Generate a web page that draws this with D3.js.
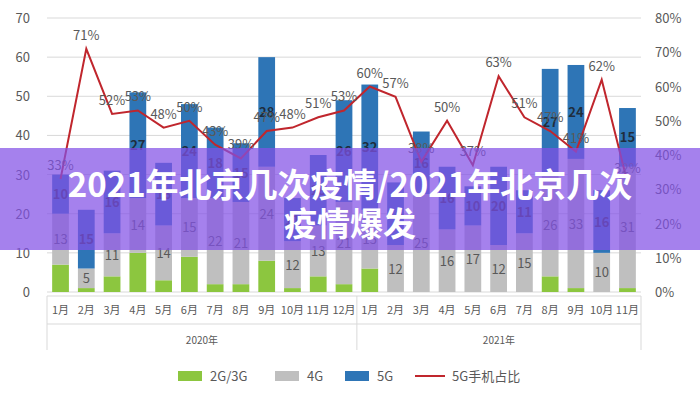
<!DOCTYPE html>
<html><head><meta charset="utf-8">
<script src="https://cdn.jsdelivr.net/npm/d3@7"></script>
<style>body{margin:0;background:#fff;font-family:"Noto Sans CJK SC","Noto Sans",sans-serif}</style>
</head><body><svg width="700" height="400"></svg>
<script>
var months = ["1月","2月","3月","4月","5月","6月","7月","8月","9月","10月","11月","12月",
              "1月","2月","3月","4月","5月","6月","7月","8月","9月","10月","11月"];
var g34 = [7,1,4,10,3,9,2,2,8,1,4,2, 6,0,0,0,0,0,0,4,1,0,1];
var g4  = [13,5,11,14,14,15,22,21,24,12,13,21, 15,12,25,16,17,12,15,26,33,10,31];
var g5  = [10,15,16,27,16,24,18,15,28,11,18,26, 32,16,16,16,10,20,11,27,24,16,15];
var share = [33,71,52,53,48,50,43,39,47,48,51,53, 60,57,38,50,37,63,51,47,41,62,32];
var years = ["2020年","2021年"];
var leftTicks = [0,10,20,30,40,50,60,70];
var rightTicks = [0,10,20,30,40,50,60,70,80];

var svg = d3.select("svg");
var plotL = 47, plotR = 641, plotT = 18, plotB = 292;
var x = d3.scaleBand().domain(d3.range(months.length)).range([plotL, plotR]).paddingInner(0.35).paddingOuter(0.2);
var y = d3.scaleLinear().domain([0,70]).range([plotB, plotT]);
var y2 = d3.scaleLinear().domain([0,80]).range([plotB, plotT]);

// grid
svg.selectAll(".grid").data(leftTicks).enter().append("line")
  .attr("x1", plotL).attr("x2", plotR)
  .attr("y1", function(d){ return y(d); }).attr("y2", function(d){ return y(d); })
  .attr("stroke", "#d9d9d9");
svg.selectAll(".lt").data(leftTicks).enter().append("text")
  .attr("x", 30).attr("y", function(d){ return y(d) + 5; }).attr("text-anchor","end")
  .attr("fill","#595959").attr("font-size",13).text(function(d){ return d; });
svg.selectAll(".rt").data(rightTicks).enter().append("text")
  .attr("x", 655).attr("y", function(d){ return y2(d) + 5; })
  .attr("fill","#595959").attr("font-size",13).text(function(d){ return d + "%"; });

// stacked bars
var colors = ["#8cc63f","#bfbfbf","#2e75b6"];
var series = [g34, g4, g5];
months.forEach(function(m, i){
  var base = 0;
  series.forEach(function(s, k){
    var v = s[i];
    if (v > 0) {
      svg.append("rect").attr("x", x(i)).attr("width", x.bandwidth())
        .attr("y", y(base + v)).attr("height", y(base) - y(base + v))
        .attr("fill", colors[k]);
      if (k > 0) {
        svg.append("text").attr("x", x(i) + x.bandwidth()/2).attr("y", y(base + v/2) + 5)
          .attr("text-anchor","middle").attr("font-size",13)
          .attr("font-weight", k == 2 ? "bold" : "normal")
          .attr("fill", k == 2 ? "#1f2d3d" : "#595959").text(v);
      }
    }
    base += v;
  });
});

// line
var line = d3.line().x(function(d,i){ return x(i) + x.bandwidth()/2; }).y(function(d){ return y2(d); });
svg.append("path").datum(share).attr("d", line).attr("fill","none").attr("stroke","#c0262d").attr("stroke-width",2);
svg.selectAll(".sl").data(share).enter().append("text")
  .attr("x", function(d,i){ return x(i) + x.bandwidth()/2; })
  .attr("y", function(d){ return y2(d) - 9; }).attr("text-anchor","middle")
  .attr("font-size",13).attr("fill","#595959").text(function(d){ return d + "%"; });

// category axis
var axisY = 296;
var split = x(12) - x.step()*x.paddingInner()/2;
svg.append("line").attr("x1",plotL).attr("x2",plotR).attr("y1",axisY).attr("y2",axisY).attr("stroke","#d9d9d9");
[plotL, split, plotR].forEach(function(px){
  svg.append("line").attr("x1",px).attr("x2",px).attr("y1",axisY).attr("y2",350).attr("stroke","#d9d9d9");
});
svg.append("line").attr("x1",plotL).attr("x2",plotR).attr("y1",324).attr("y2",324).attr("stroke","#d9d9d9");
svg.selectAll(".mx").data(months).enter().append("text")
  .attr("x", function(d,i){ return x(i) + x.bandwidth()/2; }).attr("y", 314)
  .attr("text-anchor","middle").attr("font-size",11).attr("fill","#595959").text(function(d){ return d; });
svg.selectAll(".yr").data(years).enter().append("text")
  .attr("x", function(d,i){ return i == 0 ? (plotL + split)/2 : (split + plotR)/2; }).attr("y", 344)
  .attr("text-anchor","middle").attr("font-size",10).attr("fill","#595959").text(function(d){ return d; });

// legend
var legend = [["2G/3G", colors[0], 178], ["4G", colors[1], 275], ["5G", colors[2], 345]];
legend.forEach(function(l){
  svg.append("rect").attr("x", l[2]).attr("y", 371).attr("width", 24).attr("height", 10).attr("fill", l[1]);
  svg.append("text").attr("x", l[2] + 32).attr("y", 381).attr("font-size",13).attr("fill","#595959").text(l[0]);
});
svg.append("line").attr("x1",415).attr("x2",445).attr("y1",376).attr("y2",376).attr("stroke","#c0262d").attr("stroke-width",2);
svg.append("text").attr("x",452).attr("y",381).attr("font-size",13).attr("fill","#595959").text("5G手机占比");

// banner
svg.append("rect").attr("x",0).attr("y",148).attr("width",700).attr("height",102).attr("fill","rgba(130,80,230,0.72)");
svg.append("text").attr("x",350).attr("y",197).attr("text-anchor","middle").attr("font-size",33)
  .attr("font-weight","bold").attr("fill","#fff").text("2021年北京几次疫情/2021年北京几次");
svg.append("text").attr("x",350).attr("y",236).attr("text-anchor","middle").attr("font-size",33)
  .attr("font-weight","bold").attr("fill","#fff").text("疫情爆发");
</script></body></html>
